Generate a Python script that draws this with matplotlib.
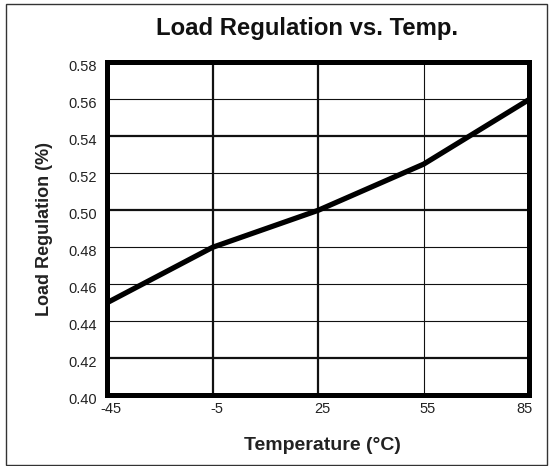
import matplotlib
matplotlib.use("Agg")
import matplotlib.pyplot as plt
import matplotlib.transforms as mtransforms
from matplotlib.patches import Rectangle
import numpy as np

tick_temps = [-45, -5, 25, 55, 85]
temps = [-45, -5, 25, 55, 85]
load_reg = [0.450, 0.480, 0.500, 0.525, 0.560]
y_ticks = [0.40, 0.42, 0.44, 0.46, 0.48, 0.50, 0.52, 0.54, 0.56, 0.58]

plt.rcParams['font.family'] = ['Liberation Sans', 'DejaVu Sans']

# the chart places the temperature ticks evenly spaced
tick_pos = np.arange(len(tick_temps))
x_pos = np.interp(temps, tick_temps, tick_pos)

fig = plt.figure(figsize=(5.49, 4.66), dpi=100)
fig.patches.append(Rectangle((0.011, 0.003), 0.985, 0.988, transform=fig.transFigure,
                             fill=False, edgecolor='#333333', linewidth=1.0))
ax = fig.add_axes([0.195, 0.152, 0.769, 0.714])

ax.plot(x_pos, load_reg, color='black', linewidth=3.8, solid_capstyle='butt',
        solid_joinstyle='round', zorder=3)
ax.set_xlim(tick_pos[0], tick_pos[-1])
ax.set_ylim(0.40, 0.58)
ax.set_xticks(tick_pos)
ax.set_xticklabels([str(t) for t in tick_temps])
ax.set_yticks(y_ticks)
ax.set_yticklabels([f"{v:.2f}" for v in y_ticks])
ax.tick_params(length=0, labelsize=10.5, colors='#222222')
ax.tick_params(axis='x', pad=5)
ax.tick_params(axis='y', pad=7)

ax.grid(True, color='#111111')
thick_x = {1, 2}
thick_y = {0.42, 0.50, 0.54}
for i, gl in enumerate(ax.get_xgridlines()):
    gl.set_linewidth(1.6 if i in thick_x else 0.8)
for v, gl in zip(y_ticks, ax.get_ygridlines()):
    gl.set_linewidth(1.6 if round(v, 2) in thick_y else 0.8)

for s in ax.spines.values():
    s.set_linewidth(3.6)
    s.set_color('black')

# label offsets
sx = mtransforms.ScaledTranslation(4 / 100, 0, fig.dpi_scale_trans)
xl = ax.get_xticklabels()
for i, lab in enumerate(xl):
    if i == len(xl) - 1:
        lab.set_horizontalalignment('right')
        lab.set_transform(lab.get_transform() + mtransforms.ScaledTranslation(3 / 100, 0, fig.dpi_scale_trans))
    else:
        lab.set_transform(lab.get_transform() + sx)
sy = mtransforms.ScaledTranslation(0, -3 / 100, fig.dpi_scale_trans)
for lab in ax.get_yticklabels():
    lab.set_transform(lab.get_transform() + sy)

fig.text(322 / 549, 1 - 445 / 466, 'Temperature (°C)', ha='center', va='center',
         fontsize=14, fontweight='bold', color='#222222')
fig.text(45 / 549, 1 - 229 / 466, 'Load Regulation (%)', ha='center', va='center',
         rotation=90, fontsize=13, fontweight='bold', color='#222222')
fig.text(307 / 549, 1 - 28 / 466, 'Load Regulation vs. Temp.', ha='center', va='center',
         fontsize=17.2, fontweight='bold', color='#111111')

fig.savefig('out.png', dpi=100)
